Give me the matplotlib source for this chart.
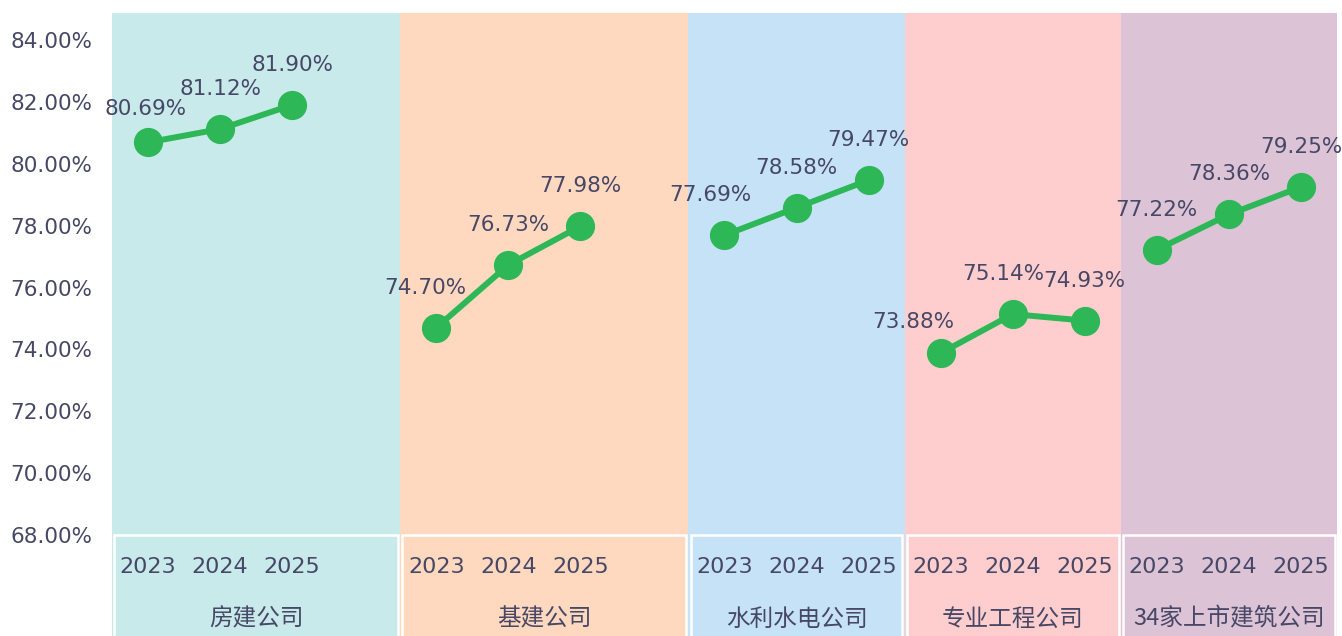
import numpy as np
import matplotlib.pyplot as plt
from matplotlib.patches import Rectangle

plt.rcParams['font.family'] = ['DejaVu Sans', 'Noto Sans CJK SC']

# 数据
groups = ['房建公司', '基建公司', '水利水电公司', '专业工程公司', '34家上市建筑公司']
years = ['2023', '2024', '2025']
values = [
    [80.69, 81.12, 81.90],
    [74.70, 76.73, 77.98],
    [77.69, 78.58, 79.47],
    [73.88, 75.14, 74.93],
    [77.22, 78.36, 79.25],
]
yticks = [68, 70, 72, 74, 76, 78, 80, 82, 84]

# 样式
slots = [4, 4, 3, 3, 3]          # 每组占的类别格数
band_colors = ['#c8eaea', '#fed9c0', '#c5e2f7', '#fecece', '#dcc3d6']
line_color = '#2db757'
text_color = '#474766'
# 数据标签的微调(像素)
nudge_x = [[-2, 0, 0], [-11, 0, 0], [-14, 0, 0], [-27, -9, 0], [0, 0, 0]]
nudge_y = [[-7, 0, 0], [0, 0, 0], [0, 0, 0], [-9, 0, 0], [0, 0, 0]]

W, H = 1342, 636
fig = plt.figure(figsize=(W / 100, H / 100), dpi=100)
ax = fig.add_axes([112 / W, 0, (1337 - 112) / W, (636 - 13) / H])

ymin, ymax = 64.74, 84.87
ax.set_ylim(ymin, ymax)
ax.set_xlim(-0.5, sum(slots) - 0.5)

start = 0
for gi, g in enumerate(groups):
    left = start - 0.5
    right = start + slots[gi] - 0.5
    ax.axvspan(left, right, color=band_colors[gi], zorder=0, lw=0)
    # 底部标签框
    ax.add_patch(Rectangle((left + 0.03, ymin - 1), slots[gi] - 0.06, 68 - ymin + 1,
                           facecolor='none', edgecolor='white', lw=1.8, zorder=1))
    xs = np.arange(3) + start
    ax.plot(xs, values[gi], color=line_color, lw=4.3, marker='o', ms=20, zorder=3)
    for k, (x, v) in enumerate(zip(xs, values[gi])):
        ax.annotate('%.2f%%' % v, (x, v),
                    xytext=(nudge_x[gi][k] * 0.72, (40 + nudge_y[gi][k]) * 0.72),
                    textcoords='offset points',
                    ha='center', va='center', fontsize=15.5, color=text_color, zorder=4)
        ax.text(x, 66.97, years[k], ha='center', va='center', fontsize=16, color=text_color)
    ax.text((left + right) / 2, 65.28, g, ha='center', va='center', fontsize=17,
            color=text_color, family=['Noto Sans CJK SC', 'DejaVu Sans'])
    start += slots[gi]

ax.set_yticks(yticks)
ax.set_yticklabels(['%.2f%%' % t for t in yticks], fontsize=15.5, color=text_color)
ax.tick_params(axis='y', length=0, pad=14)
ax.set_xticks([])
for s in ax.spines.values():
    s.set_visible(False)

fig.savefig('out.png', dpi=100)
